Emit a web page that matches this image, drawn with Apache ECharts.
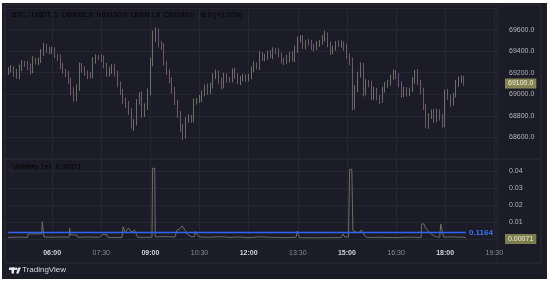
<!DOCTYPE html>
<html lang="en">
<head>
<meta charset="UTF-8">
<title>BTC / USDT, 1</title>
<script src="https://cdn.jsdelivr.net/npm/echarts@6/dist/echarts.min.js"></script>
<style>
    html, body { margin: 0; padding: 0; background: #fff; }
    #main { width: 550px; height: 284px; }
</style>
</head>
<body>
<div id="main"></div>
<script type="text/javascript">
// time is minutes since midnight, one candle every 5 minutes from 04:40
var candleStart = 280;
var candleStep = 5;
var firstOpen = 69210;
var closes = [
    69226, 69240, 69200, 69164, 69245, 69290, 69280, 69260, 69215, 69319,
    69300, 69310, 69380, 69440, 69420, 69400, 69410, 69355, 69340, 69270,
    69215, 69190, 69130, 69030, 68960, 69050, 69270, 69230, 69195, 69175,
    69170, 69315, 69345, 69340, 69335, 69270, 69185, 69220, 69255, 69200,
    69095, 69020, 68945, 68905, 68850, 68730, 68740, 68930, 68990, 68820,
    68880, 69010, 69290, 69510, 69580, 69470, 69440, 69290, 69200, 69130,
    69040, 68930, 68820, 68690, 68620, 68760, 68790, 68770, 68930, 68940,
    68960, 69010, 69070, 69030, 69080, 69160, 69200, 69130, 69080, 69170,
    69140, 69130, 69210, 69170, 69120, 69150, 69160, 69140, 69170, 69230,
    69270, 69260, 69370, 69330, 69350, 69375, 69360, 69410, 69400, 69360,
    69310, 69300, 69330, 69375, 69330, 69410, 69500, 69520, 69450, 69485,
    69480, 69435, 69430, 69470, 69485, 69520, 69550, 69460, 69400, 69430,
    69470, 69460, 69465, 69440, 69355, 69300, 68900, 69050, 69180, 69270,
    69020, 69110, 69090, 68980, 69040, 68970, 68950, 69040, 69080, 69110,
    69160, 69200, 69160, 69100, 69000, 69040, 69010, 69040, 69130, 69200,
    69110, 69030, 68890, 68720, 68800, 68830, 68770, 68840, 68790, 68720,
    69020, 68980, 68920, 68990, 69100, 69130, 69150, 69100
];
var wickHi = [
    25, 30, 20, 35, 30, 25, 20, 30, 25, 35,
    20, 30, 40, 35, 25, 20, 30, 25, 20, 30,
    25, 20, 30, 25, 35, 40, 25, 20, 30, 25,
    35, 30, 25, 20, 30, 25, 20, 35, 25, 30,
    20, 25, 30, 25, 35, 20, 30, 25, 30, 40,
    35, 45, 50, 80, 40, 30, 25, 35, 20, 30,
    25, 30, 20, 25, 35, 30, 25, 20, 30, 25,
    35, 25, 20, 30, 25, 35, 30, 20, 25, 30,
    25, 20, 30, 35, 25, 20, 30, 25, 20, 30,
    35, 25, 30, 20, 25, 30, 35, 25, 20, 30,
    25, 30, 35, 20, 25, 40, 35, 30, 25, 20,
    30, 25, 35, 25, 20, 30, 40, 25, 30, 20,
    25, 30, 35, 25, 30, 25, 40, 35, 30, 25,
    20, 30, 25, 35, 30, 20, 25, 30, 35, 25,
    20, 30, 25, 35, 20, 30, 25, 20, 30, 25,
    35, 25, 30, 20, 25, 30, 35, 25, 20, 30,
    25, 30, 20, 25, 30, 35, 25, 20
];
var wickLo = [
    30, 25, 35, 20, 25, 30, 25, 35, 30, 20,
    25, 30, 20, 25, 35, 30, 25, 20, 30, 35,
    25, 30, 35, 40, 30, 25, 20, 30, 25, 35,
    25, 20, 30, 25, 35, 30, 25, 20, 30, 35,
    30, 25, 35, 30, 40, 50, 70, 30, 25, 40,
    30, 25, 20, 30, 25, 35, 30, 25, 20, 30,
    35, 30, 40, 40, 45, 30, 25, 35, 30, 25,
    20, 30, 25, 35, 30, 25, 20, 30, 35, 25,
    30, 25, 20, 30, 25, 35, 30, 25, 20, 30,
    25, 30, 35, 20, 25, 30, 25, 35, 30, 20,
    25, 30, 20, 35, 25, 30, 25, 20, 30, 35,
    30, 25, 35, 20, 30, 25, 30, 25, 35, 30,
    25, 20, 30, 35, 25, 30, 50, 40, 30, 25,
    40, 30, 25, 35, 30, 25, 40, 30, 25, 20,
    30, 25, 20, 35, 30, 25, 30, 25, 20, 30,
    25, 30, 35, 30, 40, 30, 35, 30, 35, 30,
    25, 30, 35, 25, 20, 30, 25, 20
];

// volatility pane, read as break points (minutes, value)
var volTimes = [
    279, 300, 315, 316, 341, 342, 344, 345, 360, 375,
    391, 392, 394, 405, 407, 425, 447, 452, 460, 462,
    488, 490, 494, 497, 500, 503, 506, 508, 511, 514,
    517, 543, 544, 548, 549, 565, 585, 589, 594, 598,
    601, 604, 609, 615, 621, 622, 625, 627, 631, 650,
    670, 686, 700, 720, 741, 760, 785, 807, 809, 811,
    813, 840, 870, 889, 893, 896, 903, 905, 909, 911,
    915, 918, 922, 926, 929, 933, 937, 960, 990, 1015,
    1036, 1037, 1041, 1044, 1047, 1052, 1058, 1064, 1070, 1072,
    1075, 1077, 1085, 1095, 1105, 1112, 1118
];
var volValues = [
    0.0009, 0.0011, 0.0009, 0.0030, 0.0030, 0.0102, 0.0102, 0.0012, 0.0010, 0.0012,
    0.0010, 0.0063, 0.0024, 0.0024, 0.0010, 0.0012, 0.0010, 0.0027, 0.0027, 0.0009,
    0.0009, 0.0073, 0.0040, 0.0035, 0.0065, 0.0060, 0.0040, 0.0045, 0.0053, 0.0030,
    0.0010, 0.0010, 0.0418, 0.0418, 0.0012, 0.0014, 0.0012, 0.0053, 0.0060, 0.0077,
    0.0070, 0.0050, 0.0024, 0.0013, 0.0015, 0.0045, 0.0045, 0.0020, 0.0012, 0.0010,
    0.0014, 0.0009, 0.0012, 0.0008, 0.0013, 0.0010, 0.0008, 0.0010, 0.0047, 0.0047,
    0.0008, 0.0007, 0.0008, 0.0008, 0.0030, 0.0012, 0.0012, 0.0412, 0.0412, 0.0050,
    0.0043, 0.0033, 0.0036, 0.0053, 0.0040, 0.0018, 0.0009, 0.0010, 0.0008, 0.0011,
    0.0009, 0.0089, 0.0089, 0.0065, 0.0058, 0.0035, 0.0022, 0.0013, 0.0010, 0.0089,
    0.0089, 0.0012, 0.0011, 0.0013, 0.0010, 0.0012, 0.00071
];

var lastPrice = 69100.0;
var lastVol = 0.00071;
var volLevel = 0.0037;
var volLevelText = '0.1164';
var ohlcHeader = [['O', '69092.0'], ['H', '69100.0'], ['L', '69091.9'], ['C', '69100.0']];
var changeText = '+8.0 (+0.01%)';

var FONT = 'Liberation Sans';
var GRID_LINE = '#262633';
var UP = '#9da88b';
var DOWN = '#a98299';

var candles = closes.map(function (c, i) {
    var o = i === 0 ? firstOpen : closes[i - 1];
    return [candleStart + i * candleStep, o, c, Math.min(o, c) - wickLo[i], Math.max(o, c) + wickHi[i]];
});
var volData = volTimes.map(function (t, i) { return [t, volValues[i]]; });

function fmtTime(v) {
    var h = Math.floor(v / 60), m = v % 60;
    var s = (h < 10 ? '0' : '') + h + ':' + (m < 10 ? '0' : '') + m;
    return m === 0 ? '{b|' + s + '}' : '{n|' + s + '}';
}

var header = '{t|BTC / USDT, 1}';
ohlcHeader.forEach(function (p) { header += '  {k|' + p[0] + '}{v|' + p[1] + '}'; });
header += '  {v|' + changeText + '}';

var myChart = echarts.init(document.getElementById('main'));

var xBase = {
    type: 'value', min: 270, max: 1175, interval: 90,
    axisLine: { show: false }, axisTick: { show: false },
    splitLine: { show: true, showMinLine: false, showMaxLine: false, lineStyle: { color: GRID_LINE, width: 1 } }
};

myChart.setOption({
    backgroundColor: '#ffffff',
    animation: false,
    textStyle: { fontFamily: FONT },
    grid: [
        { left: 3, right: 53, top: 8, height: 151 },
        { left: 3, right: 53, top: 159, height: 80 }
    ],
    xAxis: [
        Object.assign({}, xBase, { gridIndex: 0, axisLabel: { show: false } }),
        Object.assign({}, xBase, {
            gridIndex: 1,
            axisLabel: {
                show: true, margin: 11, fontSize: 7, showMinLabel: false, showMaxLabel: false,
                formatter: fmtTime,
                rich: {
                    b: { fontSize: 7, fontWeight: 'bold', color: '#d4d4dc', fontFamily: FONT },
                    n: { fontSize: 7, color: '#8a8a95', fontFamily: FONT }
                }
            }
        })
    ],
    yAxis: [
        {
            gridIndex: 0, type: 'value', position: 'right', min: 68400, max: 69800, interval: 200,
            axisLine: { show: false }, axisTick: { show: false },
            axisLabel: {
                margin: 12, fontSize: 7, color: '#b4b4bc', showMinLabel: false, showMaxLabel: false,
                formatter: function (v) { return v.toFixed(1); }
            },
            splitLine: { lineStyle: { color: GRID_LINE } }
        },
        {
            gridIndex: 1, type: 'value', position: 'right', min: 0, max: 0.0473, interval: 0.01,
            axisLine: { show: false }, axisTick: { show: false },
            axisLabel: {
                margin: 12, fontSize: 7, color: '#b4b4bc', showMinLabel: false, showMaxLabel: false,
                formatter: function (v) { return v.toFixed(2); }
            },
            splitLine: { lineStyle: { color: GRID_LINE } }
        }
    ],
    graphic: [
        { type: 'rect', z: -10, silent: true, shape: { x: 2, y: 3, width: 545, height: 276 }, style: { fill: '#1c1c28' } },
        { type: 'rect', z: -9, silent: true, shape: { x: 5, y: 5, width: 536, height: 258 }, style: { fill: 'none', stroke: '#2c2c38', lineWidth: 1 } },
        { type: 'line', z: -9, silent: true, shape: { x1: 5, y1: 159, x2: 541, y2: 159 }, style: { stroke: '#2e2e3a', lineWidth: 1 } },
        { type: 'line', z: -9, silent: true, shape: { x1: 497, y1: 5, x2: 497, y2: 263 }, style: { stroke: '#262632', lineWidth: 1 } },
        {
            type: 'text', left: 12, top: 12, silent: true,
            style: {
                text: header, fontSize: 7, fontFamily: FONT,
                rich: {
                    t: { fontSize: 7, color: '#cfcfd7', fontFamily: FONT },
                    k: { fontSize: 7, color: '#cfcfd7', fontFamily: FONT },
                    v: { fontSize: 7, color: '#83906e', fontFamily: FONT }
                }
            }
        },
        {
            type: 'text', left: 13, top: 164, silent: true,
            style: {
                text: '{t|Volatility 1ex}  {v|' + lastVol.toFixed(5) + '}', fontSize: 7, fontFamily: FONT,
                rich: {
                    t: { fontSize: 7, color: '#cfcfd7', fontFamily: FONT },
                    v: { fontSize: 7, color: '#8d8d70', fontFamily: FONT }
                }
            }
        },
        { type: 'rect', silent: true, shape: { x: 9, y: 267.5, width: 6, height: 2.5 }, style: { fill: '#e6e6ee' } },
        { type: 'rect', silent: true, shape: { x: 11.5, y: 267.5, width: 2.5, height: 6 }, style: { fill: '#e6e6ee' } },
        { type: 'circle', silent: true, shape: { cx: 16.2, cy: 268.8, r: 1.3 }, style: { fill: '#e6e6ee' } },
        { type: 'polygon', silent: true, shape: { points: [[18.3, 267.5], [20.8, 267.5], [18.6, 273.5], [16.1, 273.5]] }, style: { fill: '#e6e6ee' } },
        {
            type: 'text', left: 22, top: 266, silent: true,
            style: { text: 'TradingView', fontSize: 8, fill: '#d8d8e0', fontFamily: FONT }
        }
    ],
    series: [
        {
            type: 'candlestick',
            xAxisIndex: 0, yAxisIndex: 0,
            data: candles,
            encode: { x: 0, y: [1, 2, 3, 4] },
            barWidth: 0.8,
            itemStyle: { color: UP, color0: DOWN, borderColor: UP, borderColor0: DOWN, borderWidth: 0.6 },
            markLine: {
                silent: true, symbol: 'none',
                data: [{ yAxis: lastPrice }],
                lineStyle: { color: 'rgba(0,0,0,0)', width: 0 },
                label: {
                    position: 'end', distance: 8, fontSize: 7, color: '#f0efdc',
                    backgroundColor: '#858654', padding: [2, 3, 1, 3],
                    formatter: lastPrice.toFixed(1)
                }
            }
        },
        {
            type: 'line',
            xAxisIndex: 1, yAxisIndex: 1,
            data: volData,
            symbol: 'none',
            lineStyle: { color: '#6e6e62', width: 1 },
            markLine: {
                silent: true, symbol: 'none',
                data: [
                    [
                        { coord: [volTimes[0], volLevel], lineStyle: { color: '#2f64f0', width: 1.3, type: 'solid' },
                          label: { position: 'end', distance: 3, fontSize: 8, fontWeight: 'bold', color: '#3b72f5', formatter: volLevelText } },
                        { coord: [volTimes[volTimes.length - 1], volLevel] }
                    ],
                    {
                        yAxis: lastVol,
                        lineStyle: { color: 'rgba(0,0,0,0)', width: 0 },
                        label: {
                            position: 'end', distance: 8, fontSize: 7, color: '#f0efdc',
                            backgroundColor: '#7c7e4e', padding: [2, 3, 1, 3],
                            formatter: lastVol.toFixed(5)
                        }
                    }
                ]
            }
        }
    ]
});
</script>
</body>
</html>
